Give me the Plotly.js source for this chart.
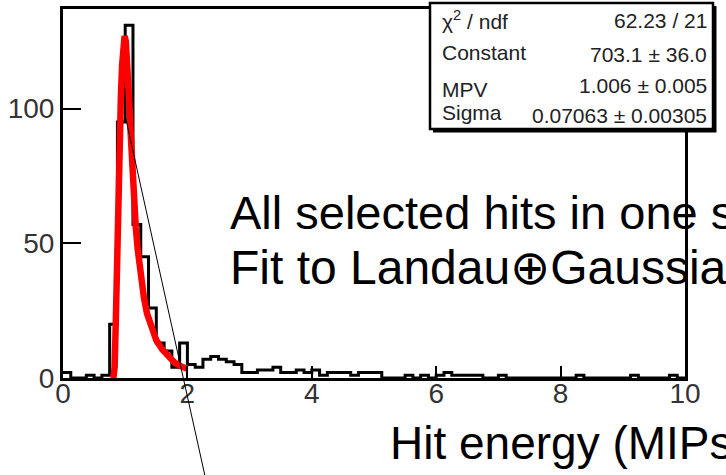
<!DOCTYPE html>
<html>
<head>
<meta charset="utf-8">
<script src="https://cdn.plot.ly/plotly-3.0.1.min.js"></script>
<style>
  html, body { margin: 0; padding: 0; background: #fff; }
  #plot { width: 726px; height: 475px; }
</style>
</head>
<body>
<div id="plot"></div>
<script>
// Hit-energy spectrum: 80 bins of 0.125 MIP from 0 to 10
const binLow = 0;
const binWidth = 0.125;
const hitCounts = [
  2, 0, 0, 1, 0, 1, 20, 95, 131, 57,
  45, 26, 13, 10, 4, 13, 5, 4, 7, 8,
  7, 6, 5, 2, 2, 3, 3, 4, 2, 2,
  3, 2, 3, 1, 2, 2, 2, 1, 2, 2,
  2, 0, 0, 0, 1, 0, 1, 0, 1, 2,
  1, 1, 1, 1, 0, 0, 1, 0, 0, 0,
  0, 0, 0, 0, 0, 0, 1, 0, 0, 0,
  0, 0, 0, 1, 0, 0, 0, 0, 1, 0
];

// Landau fit curve over the peak region
const fitX = [0.81, 0.83, 0.85, 0.87, 0.89, 0.91, 0.93, 0.95, 0.97, 0.99,
              1.01, 1.03, 1.05, 1.07, 1.09, 1.11, 1.14, 1.17, 1.20, 1.25,
              1.30, 1.35, 1.40, 1.45, 1.50, 1.60, 1.70, 1.80, 1.90, 2.00];
const fitY = [0, 4, 22, 50, 74, 92, 104, 116, 124, 127,
              125, 119, 110, 100, 90, 80, 67, 56, 48, 37,
              30, 24, 20, 17, 14, 10.5, 7.6, 5.6, 4.3, 3.4];

const xTicks = [0, 2, 4, 6, 8, 10];
const yTicks = [0, 50, 100];

// Fit statistics box
const statLabels = ['\u03C7<sup>2</sup> / ndf', 'Constant', 'MPV', 'Sigma'];
const statValues = ['62.23 / 21', '703.1 \u00B1 36.0', '1.006 \u00B1 0.005', '0.07063 \u00B1 0.00305'];

const noteLines = ['All selected hits in one sensor', 'Fit to Landau\u2295Gaussian'];
const noteSizes = [47, 48];
const xTitle = 'Hit energy (MIPs)';

// ---- page geometry (pixels) ----
const W = 726, H = 475;
const M = { l: 63, r: 41, t: 9, b: 97 };
const PW = W - M.l - M.r, PH = H - M.t - M.b;
const px = v => (v - M.l) / PW;          // pixel x -> paper x
const py = v => (H - M.b - v) / PH;      // pixel y -> paper y

// step outline of the histogram
const edges = hitCounts.map((_, i) => binLow + i * binWidth).concat([binLow + hitCounts.length * binWidth]);
const stepY = hitCounts.concat([hitCounts[hitCounts.length - 1]]);

const FONT = '"Liberation Sans", Arial, Helvetica, sans-serif';

const traces = [
  {
    type: 'scatter', mode: 'lines',
    x: edges, y: stepY,
    line: { shape: 'hv', color: '#000', width: 3 },
    hoverinfo: 'skip'
  },
  {
    type: 'scatter', mode: 'lines',
    x: fitX, y: fitY,
    line: { color: '#ff0000', width: 6.5 },
    hoverinfo: 'skip'
  }
];

const statRowsL = [20, 52.5, 89.5, 112.5];
const statRowsR = [20.5, 54.5, 85.5, 115.5];

const annotations = [];
statLabels.forEach((t, i) => annotations.push({
  xref: 'paper', yref: 'paper', x: px(440), y: py(statRowsL[i]),
  xanchor: 'left', yanchor: 'middle', showarrow: false, text: t,
  font: { family: FONT, size: 21, color: '#222' }
}));
statValues.forEach((t, i) => annotations.push({
  xref: 'paper', yref: 'paper', x: px(709), y: py(statRowsR[i]),
  xanchor: 'right', yanchor: 'middle', showarrow: false, text: t,
  font: { family: FONT, size: 21, color: '#222' }
}));
[212, 267].forEach((yy, i) => annotations.push({
  xref: 'paper', yref: 'paper', x: px(228), y: py(yy),
  xanchor: 'left', yanchor: 'middle', showarrow: false, text: noteLines[i],
  font: { family: FONT, size: noteSizes[i], color: '#000' }
}));
annotations.push({
  xref: 'paper', yref: 'paper', x: px(388), y: py(443),
  xanchor: 'left', yanchor: 'middle', showarrow: false, text: xTitle,
  font: { family: FONT, size: 46, color: '#000' }
});

const shapes = [
  // stat box shadow and frame
  { type: 'rect', xref: 'paper', yref: 'paper', layer: 'above',
    x0: px(433), x1: px(716.5), y0: py(132.5), y1: py(6),
    fillcolor: '#000', line: { width: 0 } },
  { type: 'rect', xref: 'paper', yref: 'paper', layer: 'above',
    x0: px(430), x1: px(713), y0: py(129), y1: py(3),
    fillcolor: '#fff', line: { color: '#000', width: 2.5 } },
  // pointer line
  { type: 'line', xref: 'paper', yref: 'paper', layer: 'above',
    x0: px(125), y0: py(115), x1: px(205), y1: py(476),
    line: { color: '#000', width: 1 } }
];

const axisFont = { family: FONT, size: 28, color: '#333' };

const layout = {
  width: W, height: H,
  margin: { l: M.l, r: M.r, t: M.t, b: M.b, pad: 0 },
  paper_bgcolor: '#fff', plot_bgcolor: '#fff',
  showlegend: false,
  xaxis: {
    range: [0, 10], tickvals: xTicks, ticktext: xTicks.map(String),
    ticks: 'inside', ticklen: 12, tickwidth: 2, tickcolor: '#000',
    showline: true, linecolor: '#000', linewidth: 3, mirror: true,
    showgrid: false, zeroline: false, tickfont: axisFont,
    ticklabelstandoff: -12
  },
  yaxis: {
    range: [0, 137], tickvals: yTicks, ticktext: yTicks.map(String),
    ticks: 'inside', ticklen: 18, tickwidth: 2, tickcolor: '#000',
    showline: true, linecolor: '#000', linewidth: 3, mirror: true,
    showgrid: false, zeroline: false, tickfont: axisFont,
    ticklabelstandoff: 0
  },
  shapes: shapes,
  annotations: annotations
};

Plotly.newPlot('plot', traces, layout, { staticPlot: true, displayModeBar: false });
</script>
</body>
</html>
